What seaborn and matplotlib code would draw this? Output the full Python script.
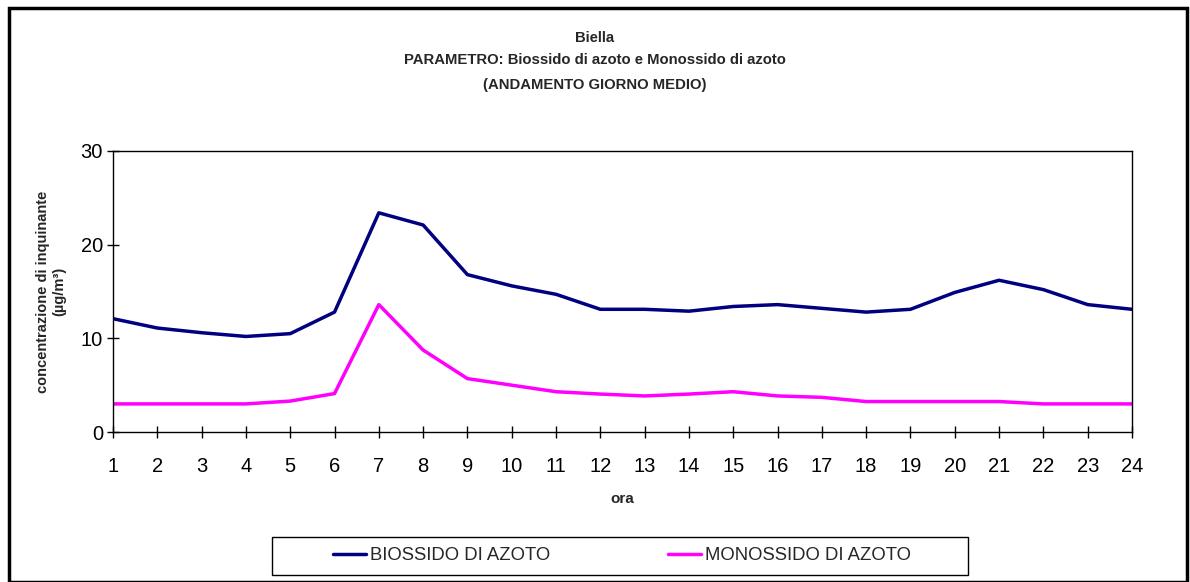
import matplotlib
matplotlib.use("Agg")
import matplotlib.pyplot as plt
import seaborn as sns
import pandas as pd
from matplotlib.patches import Rectangle

hours = list(range(1, 25))
no2 = [12.1, 11.1, 10.6, 10.2, 10.5, 12.8, 23.4, 22.1, 16.8, 15.6, 14.7, 13.1,
       13.1, 12.9, 13.4, 13.6, 13.2, 12.8, 13.1, 14.9, 16.2, 15.2, 13.6, 13.1]
no = [3.0, 3.0, 3.0, 3.0, 3.3, 4.1, 13.6, 8.75, 5.7, 5.0, 4.3, 4.05,
      3.85, 4.05, 4.3, 3.85, 3.7, 3.25, 3.25, 3.25, 3.25, 3.0, 3.0, 3.0]
series_names = ["BIOSSIDO DI AZOTO", "MONOSSIDO DI AZOTO"]
colors = ["#000080", "#FF00FF"]
yticks = [0, 10, 20, 30]

df = pd.DataFrame({
    "ora": hours * 2,
    "val": no2 + no,
    "serie": [series_names[0]] * 24 + [series_names[1]] * 24,
})

sns.set_style("white")
plt.rcParams["font.family"] = ["Liberation Sans", "DejaVu Sans"]

fig = plt.figure(figsize=(11.9, 5.82), dpi=100)
ax = fig.add_axes([113/1190, 1-432/582, (1132-113)/1190, (432-151)/582])

sns.lineplot(data=df, x="ora", y="val", hue="serie", palette=colors,
             linewidth=2.5, ax=ax, legend=True)

ax.set_xlim(1, 24)
ax.set_ylim(0, 30)
ax.set_xticks(hours)
ax.set_yticks(yticks)
ax.tick_params(axis="both", direction="inout", length=8.5, width=1, colors="black",
               labelsize=14.5, bottom=True, left=True)
ax.tick_params(axis="x", pad=14)
ax.tick_params(axis="y", pad=3)
for s in ax.spines.values():
    s.set_visible(True)
    s.set_color("black")
    s.set_linewidth(1.0)

ax.set_xlabel("ora", fontsize=11, fontweight="bold", labelpad=11)
ax.set_ylabel("concentrazione di inquinante\n(µg/m³)", fontsize=10.5,
              fontweight="bold", labelpad=10)

title_kw = dict(ha="center", va="center", fontsize=10.7, fontweight="bold")
fig.text(0.5, 1-38/582, "Biella", **title_kw)
fig.text(0.5, 1-60/582, "PARAMETRO: Biossido di azoto e Monossido di azoto", **title_kw)
fig.text(0.5, 1-85/582, "(ANDAMENTO GIORNO MEDIO)", **title_kw)

handles, labels = ax.get_legend_handles_labels()
ax.get_legend().remove()
leg = fig.legend(handles, labels, loc="center", ncol=2,
                 bbox_to_anchor=(622/1190, 1-556/582),
                 fontsize=13.3, frameon=False, handlelength=1.8, handletextpad=0.2,
                 columnspacing=6.4, borderpad=0, borderaxespad=0)

fig.patches.append(Rectangle((272/1190, 1-575/582), 696/1190, 38/582,
                             transform=fig.transFigure, fill=False,
                             edgecolor="black", linewidth=1.0))
fig.patches.append(Rectangle((9/1190, 0), 1178/1190, 1-8/582, transform=fig.transFigure,
                             fill=False, edgecolor="black", linewidth=2.5))

fig.savefig("out.png", dpi=100)
